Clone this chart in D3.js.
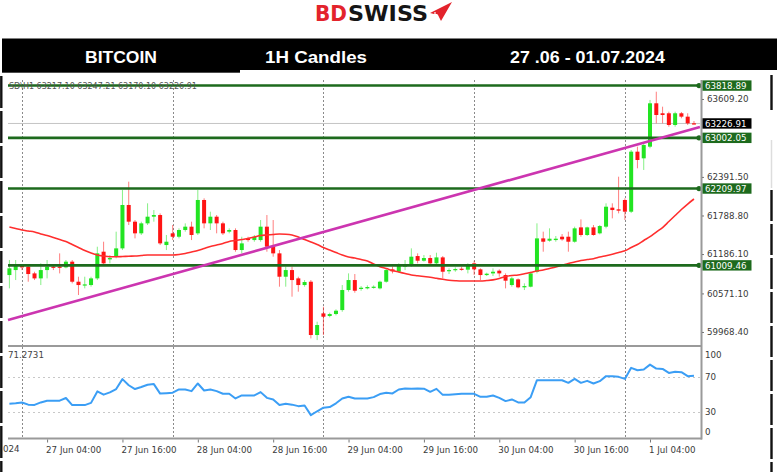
<!DOCTYPE html>
<html><head><meta charset="utf-8">
<script src="https://cdn.jsdelivr.net/npm/d3@7"></script>
<style>
html,body{margin:0;padding:0;background:#fff;}
svg{display:block;}
</style></head><body>
<svg id="c" width="780" height="472"></svg>
<script>
// ---------------- DATA ----------------
const firstCandle = "2024-06-26T22:00:00Z"; // hourly candles
const open = [60858,60936,60999,60989,60884,60806,60936,60989,60989,60978,
61067,60754,60697,60702,60806,61223,61103,61145,61275,61953,
61692,61510,61666,61770,61796,61327,61510,61457,61562,61614,
61510,62031,61666,61770,61666,61536,61562,61249,61431,61405,
61405,61614,61301,61197,60832,60936,60806,60702,60754,59921,
60259,60218,60249,60311,60624,60780,60640,60650,60660,60650,
60754,60947,60910,60989,61015,61155,61082,61124,61041,61134,
60921,60936,60957,60942,61041,60947,60858,60884,60926,60858,
60702,60791,60666,60676,60910,61431,61395,61405,61457,61457,
61379,61603,61484,61603,61510,61614,61911,61885,62031,61848,
62786,62682,62864,63542,63386,63386,63203,63386,63333,63229];
const high = [61093,61093,61015,61015,60910,61041,61093,61015,61197,61093,
61093,60832,60832,60832,61301,61379,61171,61536,62187,62317,
61718,61692,61979,61874,61822,61484,61640,61588,61666,61692,
62187,62057,61848,61796,61692,61588,61588,61457,61457,61484,
61718,61796,61718,61249,60989,60989,60832,60780,60780,60129,
60363,60270,60322,60702,60884,60874,60686,60697,60697,60770,
60963,60989,61041,61093,61275,61197,61171,61171,61207,61155,
60963,60978,60989,61041,61082,60963,60895,60963,60947,60884,
60832,60806,60728,60910,61666,61536,61588,61468,61499,61536,
61614,61728,61614,61640,61640,61979,61979,62395,62057,62812,
62864,62917,63594,63723,63489,63411,63411,63406,63386,63265];
const low = [60650,60780,60936,60754,60780,60702,60806,60936,60884,60963,
60728,60546,60650,60676,60780,61015,61041,61119,61249,61640,
61431,61484,61640,61692,61327,61249,61405,61431,61536,61405,
61484,61588,61562,61510,61484,61510,61223,61197,61379,61379,
61379,61223,61145,60676,60676,60520,60598,60676,59868,59842,
59921,60197,60228,60285,60598,60582,60613,60634,60645,60634,
60739,60884,60895,60936,60989,61041,61067,61015,61020,60806,
60874,60910,60926,60884,60858,60780,60843,60843,60832,60650,
60676,60650,60624,60666,60884,61223,61379,61379,61395,61223,
61364,61457,61468,61473,61494,61588,61744,61822,61718,61827,
62526,62500,62839,63229,63229,63176,63176,63308,63203,63211];
const close = [60963,61015,60978,60874,60806,60936,60989,60973,60973,61067,
60754,60702,60712,60806,61197,61041,61124,61275,61953,61692,
61510,61666,61770,61796,61353,61379,61457,61562,61614,61484,
62031,61666,61770,61666,61510,61562,61249,61353,61405,61457,
61614,61301,61197,60832,60936,60780,60702,60749,59921,60077,
60207,60249,60301,60624,60780,60613,60660,60671,60676,60754,
60936,60916,61015,61015,61145,61082,61124,61041,61134,60910,
60936,60952,60942,61030,60947,60858,60879,60910,60884,60770,
60806,60666,60686,60884,61431,61379,61426,61426,61416,61379,
61588,61484,61603,61484,61624,61926,61874,61864,61848,62786,
62656,62890,63542,63359,63359,63203,63386,63333,63229,63226.91];
const ma = [61608.6,61585.1,61561.7,61546.1,61530.4,61499.2,61475.8,61444.5,61413.3,61382.0,
61335.1,61288.2,61241.3,61202.2,61171.0,61155.3,61144.4,61144.4,61147.6,61152.2,
61155.3,61163.1,61171.0,61171.0,61171.0,61171.0,61171.0,61178.8,61194.5,61217.9,
61241.3,61272.6,61303.9,61327.5,61350.7,61382.0,61397.6,61413.3,61428.9,61452.4,
61475.8,61483.6,61491.4,61499.2,61496.1,61483.6,61452.4,61413.3,61374.2,61335.1,
61288.2,61249.1,61210.0,61171.0,61139.7,61124.1,61100.6,61077.2,61030.3,60988.1,
60960.0,60928.7,60905.2,60881.8,60858.4,60847.4,60834.9,60822.4,60806.8,60791.2,
60777.1,60769.2,60764.6,60764.6,60764.6,60764.6,60772.4,60783.3,60803.6,60834.9,
60850.5,60858.4,60878.7,60897.4,60920.9,60936.5,60959.9,60983.5,61010.0,61038.2,
61061.7,61085.2,61100.6,61113.2,61139.7,61160.2,61183.5,61210.0,61236.6,61288.2,
61335.1,61397.6,61457.2,61530.4,61600.8,61694.5,61788.3,61882.1,61968.1,62046.5];
const rsi = [39.5,40,41,38.5,38.2,41,43,43,43,46,
38,38,38,40.5,53.5,49.8,52.4,56.2,67.4,60.5,
56.2,58.5,61,61.8,51,51.5,52,55.7,55.7,53.8,
62.5,54.5,55.7,53.8,50.8,50.8,45.5,48.9,48.9,49,
52.7,46.2,44.4,38,39.5,38.5,36.8,37.6,26.6,31,
35,35.7,40,45.5,47.4,45.5,45.5,45.5,47,50.5,
51.9,51.2,55.7,56.8,56.4,56.8,56.6,53,56.4,49.6,
49.6,50.2,50.8,50.8,50.8,47.4,47.4,48.9,46.2,42.5,
44.4,41,41,47,66.2,66.2,66.2,66.2,66.2,63.2,
67.7,63.2,65.5,62.5,65.1,70.8,70.6,70,67.7,80.2,
77.5,78.3,83.9,79.4,79,74.5,75.7,75.3,70.8,71.27];
const levels = [63818.89, 63002.05, 62209.97, 61009.46];
const lastPrice = 63226.91;
const trendTimes = ["2024-06-26T21:47:00Z", "2024-07-01T11:57:00Z"];
const trendValues = [60155, 63172];
const priceTicks = [63609.20, 62391.50, 61788.80, 61186.10, 60571.10, 59968.40];
const rsiTicks = [100, 70, 30, 0];
const rsiLevels = [70, 30];
const rsiLast = "71.2731";
const timeTicks = ["2024-06-27T04:00:00Z","2024-06-27T16:00:00Z","2024-06-28T04:00:00Z","2024-06-28T16:00:00Z",
  "2024-06-29T04:00:00Z","2024-06-29T16:00:00Z","2024-06-30T04:00:00Z","2024-06-30T16:00:00Z","2024-07-01T04:00:00Z"];
const timeTickLabels = ["27 Jun 04:00","27 Jun 16:00","28 Jun 04:00","28 Jun 16:00","29 Jun 04:00",
  "29 Jun 16:00","30 Jun 04:00","30 Jun 16:00","1 Jul 04:00"];
const firstDateLabel = "024";
const dayLines = ["2024-06-27T00:00:00Z","2024-06-28T00:00:00Z","2024-06-29T00:00:00Z","2024-06-30T00:00:00Z","2024-07-01T00:00:00Z"];
const headerTexts = ["BITCOIN", "1H Candles", "27 .06 - 01.07.2024"];
const infoText = "SD\\H1   63217.10 63247.21 63170.10 63226.91";

// ---------------- LAYOUT ----------------
const L = 8, R = 700, mainTop = 80, mainBot = 345, rsiTop = 347, rsiBot = 438.6;
const svg = d3.select("#c");
const t0 = new Date(firstCandle).getTime();
const times = open.map((_, i) => new Date(t0 + i * 3600e3));

const x = d3.scaleUtc()
  .domain([new Date("2024-06-26T21:46:38Z"), new Date("2024-07-01T11:57:36Z")])
  .range([L, R]);
const y = d3.scaleLinear().domain([59765, 63906]).range([mainBot, mainTop]);
const yr = d3.scaleLinear().domain([0, 100]).range([rsiBot, 350.4]);

// ---------------- HEADER ----------------
svg.append("text").attr("x", 315).attr("y", 20.5)
  .attr("font-family", "DejaVu Sans").attr("font-weight", "bold").attr("font-size", 21)
  .attr("fill", "#e3232c").attr("textLength", 32).attr("lengthAdjust", "spacingAndGlyphs").text("BD");
svg.append("text").attr("x", 348).attr("y", 20.5)
  .attr("font-family", "DejaVu Sans").attr("font-weight", "bold").attr("font-size", 21)
  .attr("fill", "#151515").attr("textLength", 80).attr("lengthAdjust", "spacingAndGlyphs").text("SWISS");
svg.append("polygon").attr("points", "430,13 452,2 441,21 438,15").attr("fill", "#e3232c");
svg.append("path").attr("d", "M432.5,14.5h5M435,12v5").attr("stroke", "#fff").attr("stroke-width", 1.2);

svg.append("rect").attr("x", 2).attr("y", 38.5).attr("width", 775).attr("height", 31.5).attr("fill", "#000");
svg.append("rect").attr("x", 2).attr("y", 60).attr("width", 238).attr("height", 12.7).attr("fill", "#000");
const hx = [85, 265, 510], hw = [72, 102, 155];
headerTexts.forEach((s, i) => {
  svg.append("text").attr("x", hx[i]).attr("y", 62.5)
    .attr("font-family", "Liberation Sans").attr("font-weight", "bold").attr("font-size", 17)
    .attr("fill", "#fff").attr("textLength", hw[i]).attr("lengthAdjust", "spacingAndGlyphs").text(s);
});

// screenshot frame remnants
svg.append("line").attr("x1", 1.3).attr("x2", 1.3).attr("y1", 76).attr("y2", 472)
  .attr("stroke", "#111").attr("stroke-width", 2.4).attr("stroke-dasharray", "32,3");
svg.append("line").attr("x1", 771.5).attr("x2", 771.5).attr("y1", 75).attr("y2", 110)
  .attr("stroke", "#111").attr("stroke-width", 2.4);
svg.append("line").attr("x1", 771.5).attr("x2", 771.5).attr("y1", 140).attr("y2", 188)
  .attr("stroke", "#ddd").attr("stroke-width", 1.5);
svg.append("line").attr("x1", 771.5).attr("x2", 771.5).attr("y1", 190).attr("y2", 472)
  .attr("stroke", "#111").attr("stroke-width", 2.4).attr("stroke-dasharray", "31,3");

// ---------------- GRID ----------------
const g = svg.append("g");
dayLines.forEach(d => {
  const xx = Math.round(x(new Date(d))) + 0.5;
  [[mainTop, mainBot], [rsiTop, rsiBot]].forEach(([a, b]) =>
    g.append("line").attr("x1", xx).attr("x2", xx).attr("y1", a).attr("y2", b)
      .attr("stroke", "#8a8a8a").attr("stroke-dasharray", "2,2"));
});
rsiLevels.forEach(v => {
  g.append("line").attr("x1", L).attr("x2", R).attr("y1", Math.round(yr(v)) + 0.5).attr("y2", Math.round(yr(v)) + 0.5)
    .attr("stroke", "#c8c8c8").attr("stroke-dasharray", "2,3");
});

// current price line
g.append("line").attr("x1", L).attr("x2", R).attr("y1", y(lastPrice)).attr("y2", y(lastPrice))
  .attr("stroke", "#c4c4c4").attr("stroke-width", 1);

// ---------------- CANDLES ----------------
const cg = svg.append("g");
const green = "#22e422", red = "#ff1414";
times.forEach((t, i) => {
  const o = open[i], c = close[i], col = c >= o ? green : red;
  const cx = x(t);
  cg.append("line").attr("x1", cx).attr("x2", cx).attr("y1", y(high[i])).attr("y2", y(low[i]))
    .attr("stroke", col).attr("stroke-width", 1).attr("stroke-opacity", 0.55);
  const top = y(Math.max(o, c)), bot = y(Math.min(o, c));
  cg.append("rect").attr("x", cx - 2).attr("width", 4).attr("y", top).attr("height", Math.max(1.2, bot - top))
    .attr("fill", col);
});

// moving average
svg.append("path").datum(ma)
  .attr("d", d3.line().x((d, i) => x(times[i])).y(d => y(d)).curve(d3.curveMonotoneX))
  .attr("fill", "none").attr("stroke", "#ff2e2e").attr("stroke-width", 1.6);

// levels
levels.forEach(v => {
  svg.append("line").attr("x1", L).attr("x2", R - 1).attr("y1", y(v)).attr("y2", y(v))
    .attr("stroke", "#1d6a1d").attr("stroke-width", 2.6);
  svg.append("circle").attr("cx", R - 1).attr("cy", y(v)).attr("r", 2.6).attr("fill", "#1d6a1d");
});

// trend line
svg.append("line")
  .attr("x1", x(new Date(trendTimes[0]))).attr("y1", y(trendValues[0]))
  .attr("x2", x(new Date(trendTimes[1]))).attr("y2", y(trendValues[1]))
  .attr("stroke", "#cc35b0").attr("stroke-width", 2.6);

// RSI
svg.append("path").datum(rsi)
  .attr("d", d3.line().x((d, i) => x(times[i])).y(d => yr(d)))
  .attr("fill", "none").attr("stroke", "#3b9ef5").attr("stroke-width", 2).attr("stroke-linejoin", "round");

// ---------------- FRAMES ----------------
svg.append("line").attr("x1", L).attr("x2", R + 2).attr("y1", 346).attr("y2", 346).attr("stroke", "#9a9a9a").attr("stroke-width", 2);
svg.append("line").attr("x1", L).attr("x2", R + 2).attr("y1", 438.5).attr("y2", 438.5).attr("stroke", "#9a9a9a").attr("stroke-width", 2);
svg.append("line").attr("x1", R + 1.5).attr("x2", R + 1.5).attr("y1", mainTop).attr("y2", 439.5).attr("stroke", "#9a9a9a").attr("stroke-width", 2);

// ---------------- AXES ----------------
const font = "DejaVu Sans";
const ra = svg.append("g").attr("transform", `translate(${R + 2},0)`)
  .call(d3.axisRight(y).tickValues(priceTicks).tickSize(2).tickPadding(3).tickFormat(d3.format(".2f")));
ra.select(".domain").remove();
ra.selectAll("line").attr("stroke", "#777");
ra.selectAll("text").attr("font-family", font).attr("font-size", 8.7).attr("fill", "#3a3a3a");

// level labels
levels.forEach(v => {
  svg.append("rect").attr("x", R + 2.5).attr("y", y(v) - 5.2).attr("width", 49).attr("height", 10.4).attr("fill", "#1d6a1d");
  svg.append("text").attr("x", R + 5).attr("y", y(v) + 3.2).attr("font-family", font).attr("font-size", 8.7)
    .attr("fill", "#fff").text(v.toFixed(2));
});
svg.append("rect").attr("x", R + 2.5).attr("y", y(lastPrice) - 5.2).attr("width", 49).attr("height", 10.4).attr("fill", "#000");
svg.append("text").attr("x", R + 5).attr("y", y(lastPrice) + 3.2).attr("font-family", font).attr("font-size", 8.7)
  .attr("fill", "#fff").text(lastPrice.toFixed(2));

// rsi axis labels
const rsiLabelY = {100: 358, 70: 380, 30: 415, 0: 435};
rsiTicks.forEach(v => {
  svg.append("text").attr("x", R + 5).attr("y", rsiLabelY[v]).attr("font-family", font).attr("font-size", 8.7)
    .attr("fill", "#3a3a3a").text(v);
});

// time axis
const xa = svg.append("g").attr("transform", "translate(0,439.5)")
  .call(d3.axisBottom(x).tickValues(timeTicks.map(d => new Date(d))).tickSize(3).tickPadding(4)
    .tickFormat((d, i) => timeTickLabels[i]));
xa.select(".domain").remove();
xa.selectAll("line").attr("stroke", "#777");
xa.selectAll("text").attr("text-anchor", "start").attr("dx", -1.5)
  .attr("font-family", font).attr("font-size", 8.7).attr("fill", "#3a3a3a");
svg.append("text").attr("x", 3).attr("y", 452).attr("text-anchor", "start").attr("font-family", font)
  .attr("font-size", 8.7).attr("fill", "#3a3a3a").text(firstDateLabel);

// info texts
svg.append("text").attr("x", 9).attr("y", 89).attr("font-family", font).attr("font-size", 8)
  .attr("fill", "#555").text(infoText);
svg.append("text").attr("x", 8).attr("y", 358).attr("font-family", font).attr("font-size", 8.7)
  .attr("fill", "#444").text(rsiLast);
</script>
</body></html>
